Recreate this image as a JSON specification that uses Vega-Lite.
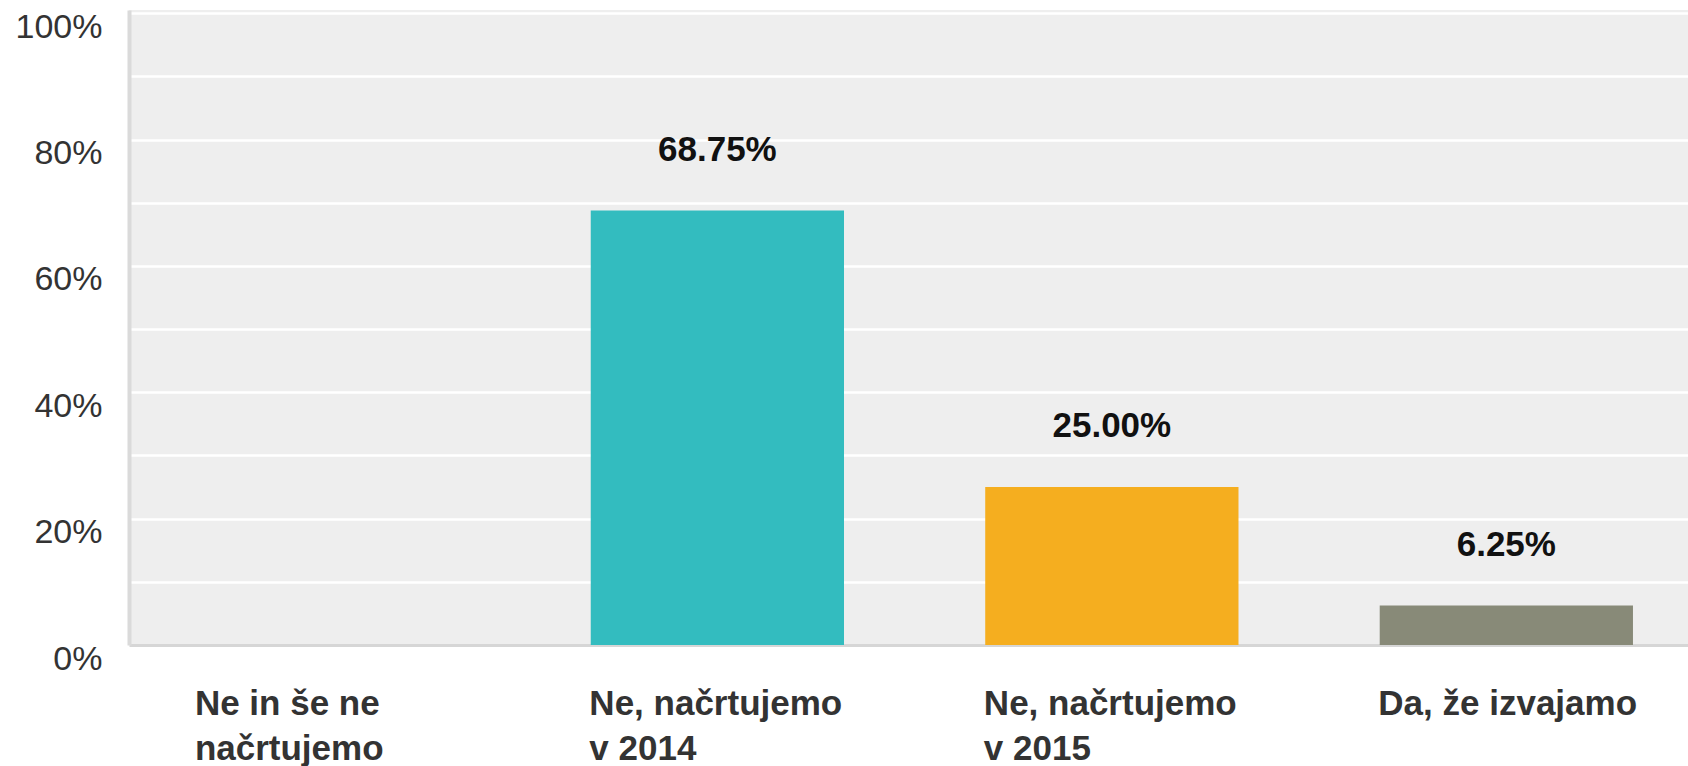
{
  "$schema": "https://vega.github.io/schema/vega-lite/v6.json",
  "width": 1688,
  "height": 766,
  "autosize": {"type": "fit", "contains": "padding"},
  "padding": {"left": 15, "top": 10, "right": 0, "bottom": 0},
  "background": "white",
  "config": {"view": {"fill": "#eeeeee", "stroke": null}, "font": "Liberation Sans"},
  "data": {"values": [
    {"answer": "Ne in še ne|načrtujemo", "pct": 0},
    {"answer": "Ne, načrtujemo|v 2014", "pct": 0.6875},
    {"answer": "Ne, načrtujemo|v 2015", "pct": 0.25},
    {"answer": "Da, že izvajamo", "pct": 0.0625}
  ]},
  "encoding": {
    "x": {
      "field": "answer", "type": "nominal", "sort": null,
      "scale": {"paddingInner": 0.358, "paddingOuter": 0.155, "align": 0.55},
      "axis": {
        "title": null, "labelAngle": 0, "labelAlign": "left", "labelOffset": -128,
        "labelBaseline": "top", "labelPadding": 41, "labelFontSize": 35, "labelFontWeight": "bold",
        "labelColor": "#333333", "labelLineHeight": 45, "labelExpr": "split(datum.label, '|')",
        "labelLimit": 600, "labelOverlap": false, "labelBound": false,
        "domainColor": "#d6d6d6", "domainWidth": 3, "ticks": false, "grid": false
      }
    },
    "y": {
      "field": "pct", "type": "quantitative",
      "scale": {"domain": [0, 1.005], "nice": false},
      "axis": {
        "title": null, "values": [0, 0.1, 0.2, 0.3, 0.4, 0.5, 0.6, 0.7, 0.8, 0.9, 1.0],
        "format": ".0%", "labelExpr": "round(datum.value*10) % 2 == 0 ? datum.label : ''",
        "grid": true, "gridColor": "#ffffff", "gridWidth": 2.5,
        "domainColor": "#dadada", "domainWidth": 4, "ticks": false,
        "labelFontSize": 34, "labelColor": "#333333", "labelPadding": 27, "labelOffset": 14,
        "labelFlush": false, "labelBaseline": "middle"
      }
    }
  },
  "layer": [
    {
      "mark": {"type": "bar"},
      "encoding": {
        "color": {
          "field": "answer", "type": "nominal", "legend": null,
          "scale": {
            "domain": ["Ne in še ne|načrtujemo", "Ne, načrtujemo|v 2014", "Ne, načrtujemo|v 2015", "Da, že izvajamo"],
            "range": ["#33bcbf", "#33bcbf", "#f5ae1f", "#888a78"]
          }
        }
      }
    },
    {
      "transform": [{"filter": "datum.pct > 0"}],
      "mark": {"type": "text", "dy": -61, "fontSize": 35, "fontWeight": "bold", "color": "#111111", "baseline": "middle"},
      "encoding": {"text": {"field": "pct", "type": "quantitative", "format": ".2%"}}
    }
  ]
}
